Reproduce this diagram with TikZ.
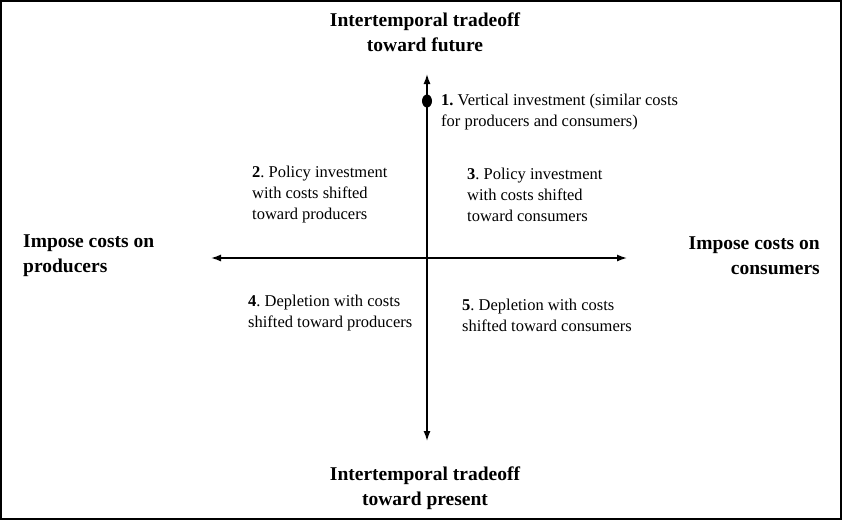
\documentclass[tikz,border=0pt]{standalone}
\usepackage{fontspec}
\setmainfont{Liberation Serif}
\usetikzlibrary{arrows.meta}
\frenchspacing
\begin{document}
\begin{tikzpicture}[x=1pt,y=-1pt]
			\useasboundingbox (0,0) rectangle (842,520);
			\draw[line width=2pt] (1,1) rectangle (841,519);
			\coordinate (N) at (427,74);
			\coordinate (S) at (427,441);
			\coordinate (W) at (211,258);
			\coordinate (E) at (627,258);
			\coordinate (dot) at (427,101);
			\draw [line width=1.4pt, {Latex[length=10pt,width=7pt]}-{Latex[length=10pt,width=7pt]}] (S) -- (N);
			\draw [line width=1.4pt, {Latex[length=10pt,width=7pt]}-{Latex[length=10pt,width=7pt]}] (W) -- (E);
			\fill (dot) ellipse (5pt and 6.5pt);
			\begin{scope}[every node/.style={inner sep=0pt,font=\fontsize{19.5}{25}\selectfont\bfseries}]
				\node[align=center] (future) at (425,32) {Intertemporal tradeoff\\toward future};
				\node[align=center] (present) at (425,488) {Intertemporal tradeoff\\toward present};
				\node[align=left,anchor=west] (producers) at (23,256) {Impose costs on\\producers};
				\node[align=right,anchor=east] (consumers) at (820,256) {Impose costs on\\consumers};
			\end{scope}
			\begin{scope}[every node/.style={inner sep=0pt,align=left,anchor=west,font=\fontsize{16.5}{21}\selectfont}]
				\node (q1) at (441,112) {\textbf{1.} Vertical investment (similar costs\\for producers and consumers)};
				\node (q2) at (252,195) {\textbf{2}. Policy investment\\with costs shifted\\toward producers};
				\node (q3) at (467,195) {\textbf{3}. Policy investment\\with costs shifted\\toward consumers};
				\node (q4) at (248,313) {\textbf{4}. Depletion with costs\\shifted toward producers};
				\node (q5) at (462,315) {\textbf{5}. Depletion with costs\\shifted toward consumers};
			\end{scope}
		\end{tikzpicture}
\end{document}
